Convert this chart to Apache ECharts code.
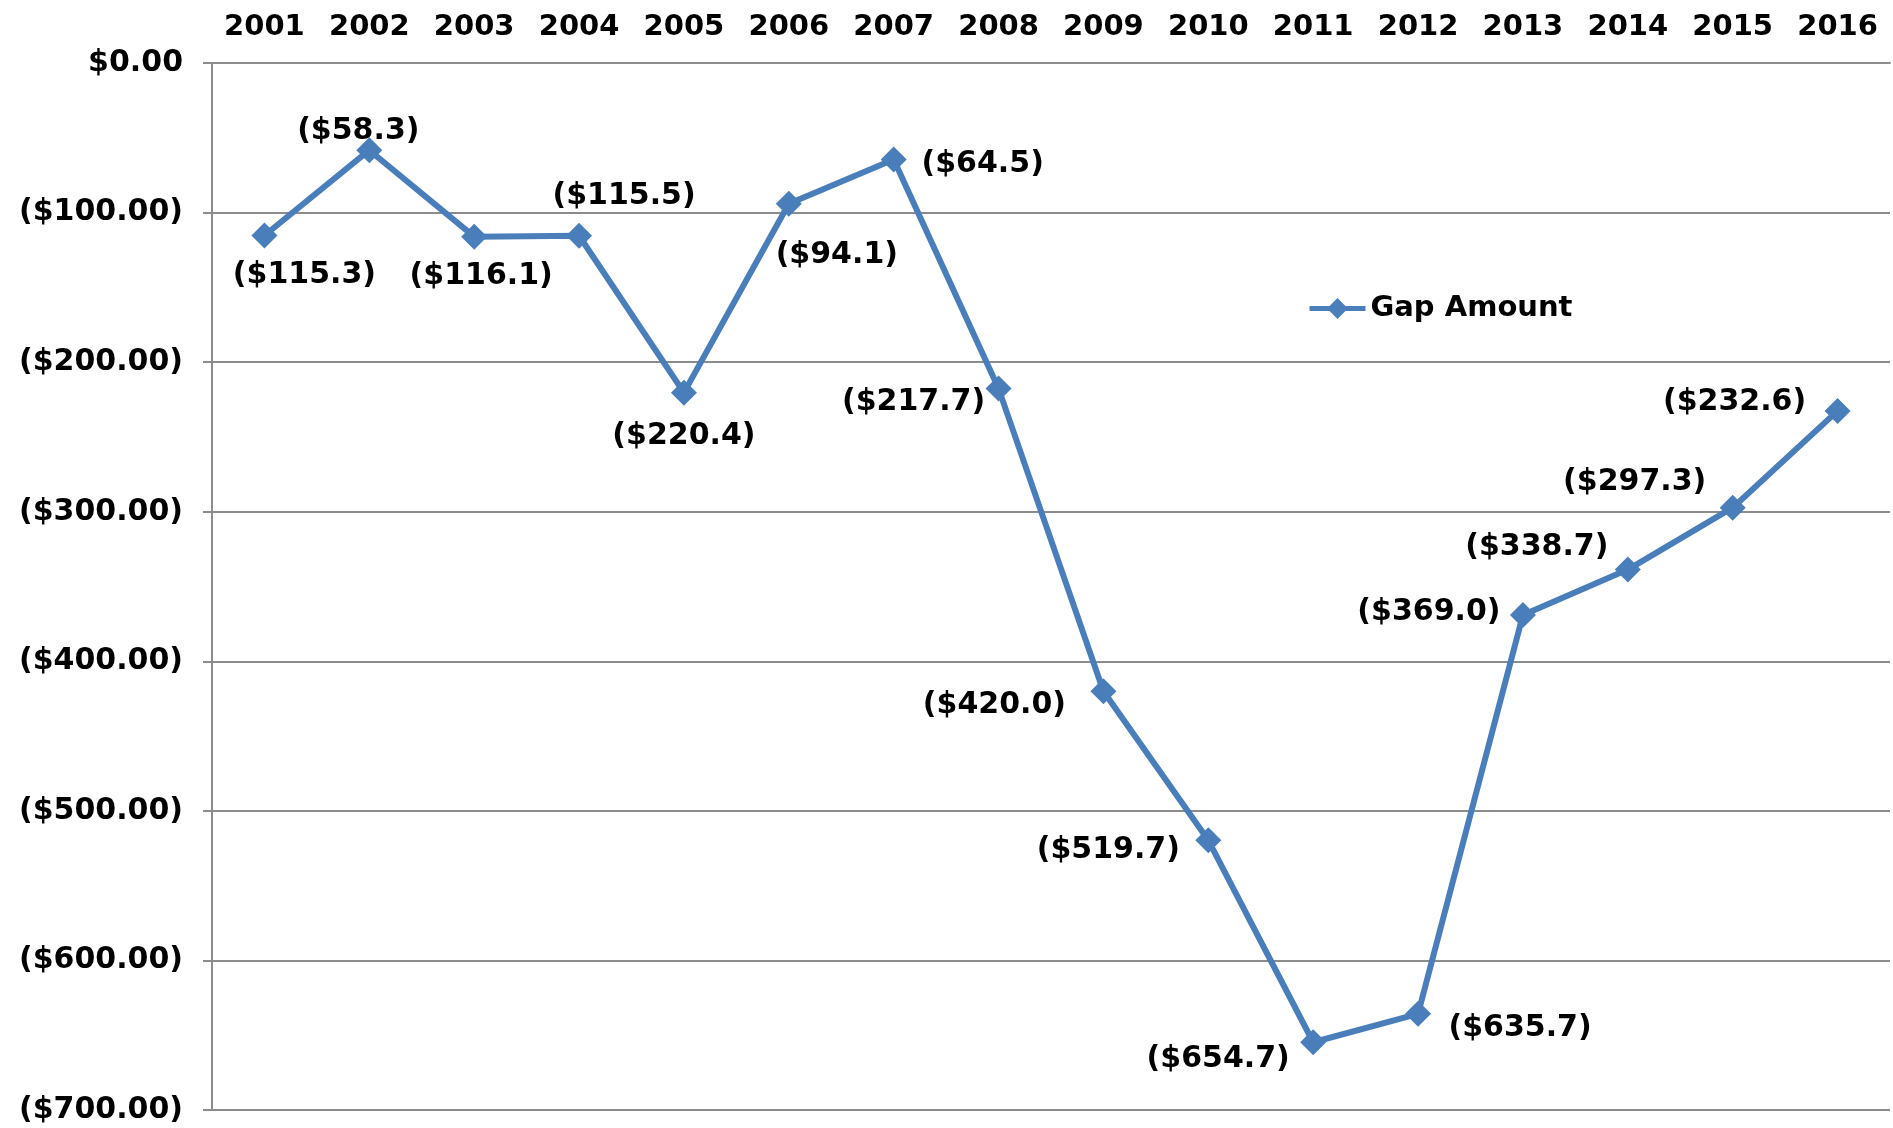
<!DOCTYPE html>
<html>
<head>
<meta charset="utf-8">
<script src="https://cdn.jsdelivr.net/npm/echarts@6/dist/echarts.min.js"></script>
<style>
  html, body { margin: 0; padding: 0; background: #fff; }
  #chart { width: 1893px; height: 1128px; }
</style>
</head>
<body>
<div id="chart"></div>
<script>
// 数据
var years = ['2001', '2002', '2003', '2004', '2005', '2006', '2007', '2008',
  '2009', '2010', '2011', '2012', '2013', '2014', '2015', '2016'];
var gapAmount = [-115.3, -58.3, -116.1, -115.5, -220.4, -94.1, -64.5, -217.7,
  -420.0, -519.7, -654.7, -635.7, -369.0, -338.7, -297.3, -232.6];
var yTicks = [0, -100, -200, -300, -400, -500, -600, -700];

// 标签偏移（像素）
var labelOffsets = [[40, 40], [-11, -19], [7, 40], [45, -40], [0, 44], [48, 51],
  [89, 5], [-85, 14], [-109, 14], [-100, 10], [-95, 17], [102, 14],
  [-94, -3], [-91, -22], [-98, -25], [-103, -9]];

var font = 'DejaVu Sans';
var blue = '#4a7ebb';
var gray = '#8c8c8c';

function money(v, d) {
  if (v == 0) return '$' + (0).toFixed(d);
  return '($' + Math.abs(v).toFixed(d) + ')';
}

var seriesData = [];
for (var i = 0; i < gapAmount.length; i++) {
  seriesData.push({
    value: gapAmount[i],
    label: { offset: labelOffsets[i] }
  });
}

var myChart = echarts.init(document.getElementById('chart'));

var option = {
  animation: false,
  backgroundColor: '#fff',
  grid: { left: 212, right: 3, top: 63, bottom: 18 },
  legend: {
    left: 1302,
    top: 289,
    itemWidth: 56,
    itemHeight: 26,
    itemGap: 5,
    lineStyle: { width: 5 },
    textStyle: { fontFamily: font, fontWeight: 'bold', fontSize: 29, color: '#000' },
    data: ['Gap Amount']
  },
  xAxis: {
    type: 'category',
    position: 'top',
    data: years,
    boundaryGap: true,
    axisLine: { lineStyle: { color: gray, width: 2 } },
    axisTick: { inside: true, length: 9, lineStyle: { color: gray, width: 2 } },
    axisLabel: { interval: 0, margin: 21, fontFamily: font, fontWeight: 'bold', fontSize: 29, color: '#000' }
  },
  yAxis: {
    type: 'value',
    min: yTicks[yTicks.length - 1],
    max: yTicks[0],
    interval: 100,
    axisLine: { show: true, lineStyle: { color: gray, width: 2 } },
    axisTick: { show: true, length: 9, lineStyle: { color: gray, width: 2 } },
    splitLine: { lineStyle: { color: gray, width: 2 } },
    axisLabel: {
      margin: 29,
      fontFamily: font, fontWeight: 'bold', fontSize: 30, color: '#000',
      formatter: function (v) { return money(v, 2); }
    }
  },
  series: [{
    name: 'Gap Amount',
    type: 'line',
    data: seriesData,
    symbol: 'diamond',
    symbolSize: 26,
    lineStyle: { color: blue, width: 6 },
    itemStyle: { color: blue },
    label: {
      show: true,
      position: 'inside',
      align: 'center',
      verticalAlign: 'middle',
      fontFamily: font, fontWeight: 'bold', fontSize: 30, color: '#000',
      formatter: function (p) { return money(p.value, 1); }
    }
  }]
};

myChart.setOption(option);
</script>
</body>
</html>
